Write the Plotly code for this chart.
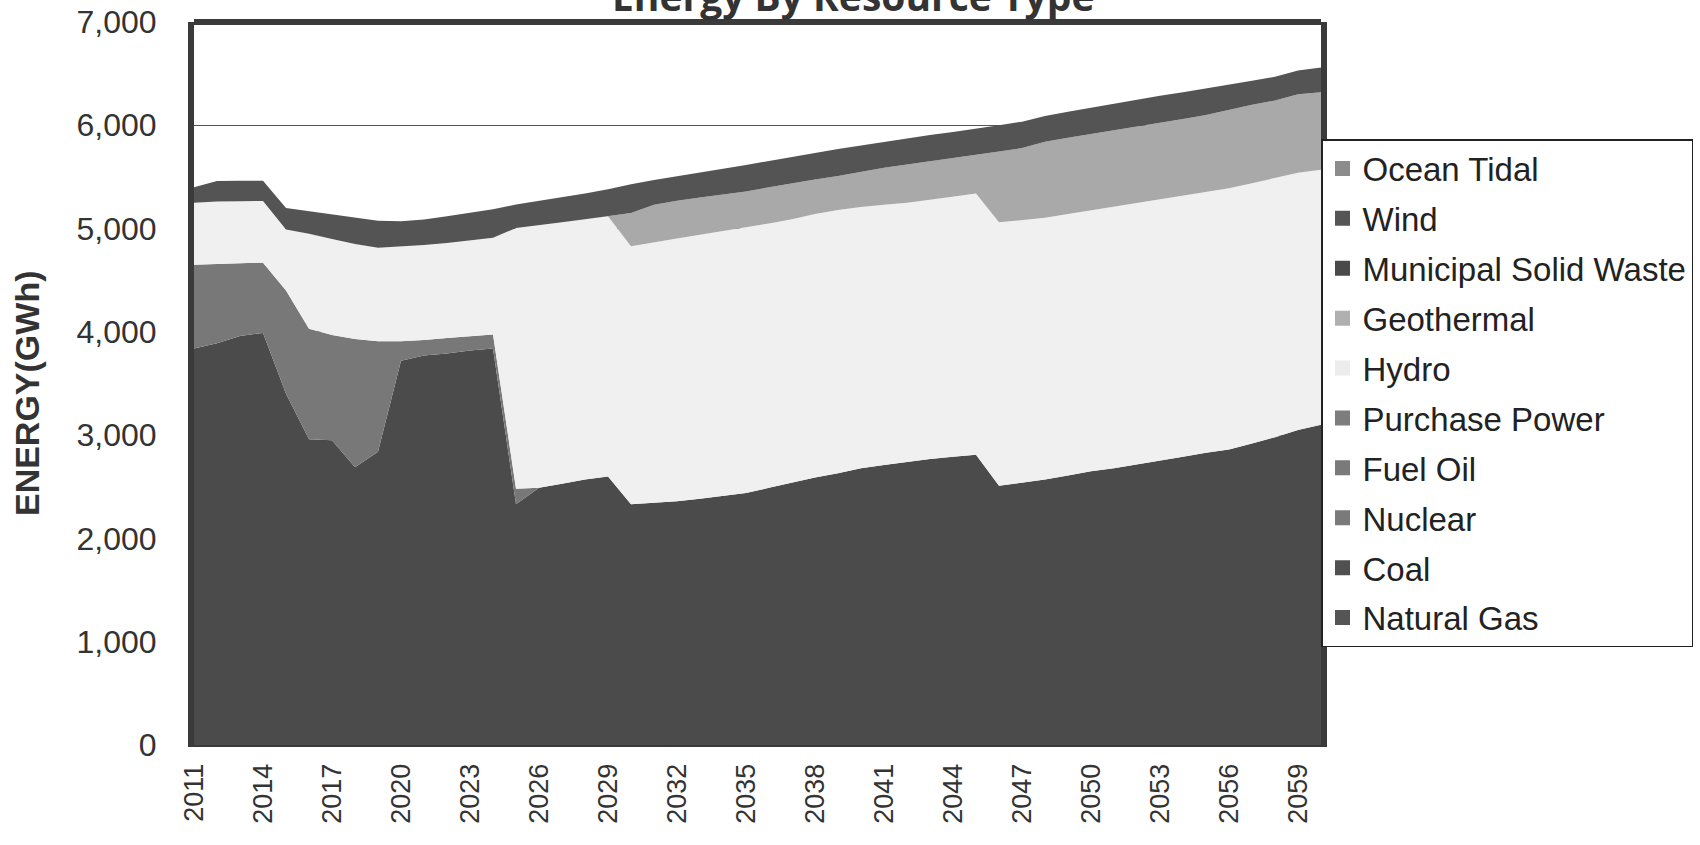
import plotly.graph_objects as go

years = list(range(2011, 2061))
tick_years = list(range(2011, 2060, 3))

natural_gas = [3840, 3890, 3960, 3990, 3400, 2960, 2950, 2690, 2840, 3720,
               3770, 3790, 3820, 3840, 2330, 2490, 2530, 2570, 2600, 2330,
               2345, 2360, 2385, 2410, 2440, 2490, 2540, 2590, 2630, 2680,
               2710, 2740, 2770, 2790, 2810, 2510, 2540, 2570, 2610, 2650,
               2680, 2715, 2750, 2790, 2830, 2860, 2920, 2980, 3050, 3100]
coal = [0] * 50
nuclear = [0] * 50
fuel_oil = [810, 770, 705, 680, 1000, 1070, 1020, 1240, 1070, 190,
            150, 150, 140, 135, 150, 0, 0, 0, 0, 0,
            0, 0, 0, 0, 0, 0, 0, 0, 0, 0,
            0, 0, 0, 0, 0, 0, 0, 0, 0, 0,
            0, 0, 0, 0, 0, 0, 0, 0, 0, 0]
purchase_power = [0] * 50
hydro = [600, 602, 600, 597, 590, 920, 930, 920, 905, 915,
         920, 920, 925, 935, 2525, 2540, 2530, 2520, 2520, 2500,
         2525, 2545, 2555, 2565, 2570, 2560, 2550, 2550, 2550, 2530,
         2520, 2510, 2510, 2520, 2530, 2550, 2540, 2535, 2530, 2525,
         2530, 2535, 2530, 2525, 2520, 2530, 2520, 2510, 2490, 2470]
geothermal = [0, 0, 0, 0, 0, 0, 0, 0, 0, 0,
              0, 0, 0, 0, 0, 0, 0, 0, 0, 320,
              360, 365, 360, 355, 350, 350, 350, 335, 330, 340,
              360, 370, 370, 375, 375, 685, 700, 735, 740, 740,
              740, 735, 740, 745, 750, 760, 760, 750, 760, 750]
municipal_solid_waste = [0] * 50
wind = [150, 198, 197, 195, 210, 220, 237, 254, 260, 247,
        248, 260, 268, 276, 229, 237, 240, 250, 261, 280,
        240, 235, 240, 245, 255, 255, 255, 260, 260, 255,
        250, 250, 255, 250, 250, 255, 255, 250, 250, 255,
        260, 265, 265, 260, 255, 240, 230, 230, 230, 240]
ocean_tidal = [0] * 50

series = [
    ("Natural Gas", natural_gas, "#4b4b4b"),
    ("Coal", coal, "#555555"),
    ("Nuclear", nuclear, "#7a7a7a"),
    ("Fuel Oil", fuel_oil, "#787878"),
    ("Purchase Power", purchase_power, "#7d7d7d"),
    ("Hydro", hydro, "#f0f0f0"),
    ("Geothermal", geothermal, "#a9a9a9"),
    ("Municipal Solid Waste", municipal_solid_waste, "#4d4d4d"),
    ("Wind", wind, "#545454"),
    ("Ocean Tidal", ocean_tidal, "#8a8a8a"),
]
legend_colors = {
    "Natural Gas": "#555555", "Coal": "#505050", "Nuclear": "#7a7a7a",
    "Fuel Oil": "#7a7a7a", "Purchase Power": "#7d7d7d", "Hydro": "#ececec",
    "Geothermal": "#b0b0b0", "Municipal Solid Waste": "#4a4a4a",
    "Wind": "#555555", "Ocean Tidal": "#8c8c8c",
}

fig = go.Figure()
for name, vals, col in series:
    fig.add_trace(go.Scatter(
        x=years, y=vals, name=name, mode="lines",
        stackgroup="one", showlegend=False,
        line=dict(width=0, color=col), fillcolor=col,
    ))
# legend entries (square swatches), top entry = top layer
for name, vals, col in reversed(series):
    fig.add_trace(go.Scatter(
        x=[None], y=[None], name=name, mode="markers",
        marker=dict(symbol="square", size=15, color=legend_colors[name],
                    line=dict(width=0)),
        showlegend=True, legendgroup=name,
    ))

W, H = 1700, 845
L, R, T, B = 194, 372, 22, 100
PW = W - L - R
PH = H - T - B
fig.update_layout(
    width=W, height=H,
    margin=dict(l=L, r=R, t=T, b=B),
    paper_bgcolor="white", plot_bgcolor="white",
    font=dict(family="Liberation Sans, Arial, sans-serif", color="#333333"),
    showlegend=True,
    legend=dict(
        xref="container", yref="container",
        x=1321 / W, y=1 - 139 / H, xanchor="left", yanchor="top",
        traceorder="grouped", tracegroupgap=4, maxheight=600,
        font=dict(size=33, color="#222222"),
        bgcolor="white", bordercolor="#222222", borderwidth=1.5,
    ),
    xaxis=dict(
        range=[2011, 2060], tickmode="array", tickvals=tick_years,
        ticktext=[str(y) for y in tick_years], tickangle=-90,
        tickfont=dict(size=27, color="#333333"),
        showgrid=False, zeroline=False, automargin=False,
        showline=True, linecolor="#3a3a3a", linewidth=2,
        ticks="", ticklabelstandoff=6,
    ),
    yaxis=dict(
        range=[0, 7000], dtick=1000, tickformat=",",
        tickfont=dict(size=32, color="#333333"),
        showgrid=True, gridcolor="#555555", gridwidth=1.2,
        zeroline=False, showline=True, mirror=True, automargin=False,
        linecolor="#3a3a3a", linewidth=6, ticks="", ticklabelstandoff=25,
    ),
    shapes=[dict(type="line", xref="paper", yref="paper", x0=0, x1=1, y0=1, y1=1,
                 line=dict(color="#3a3a3a", width=6), layer="above")],
    annotations=[
        dict(text="<b>Energy By Resource Type</b>", xref="paper", yref="paper",
             x=(857 - L) / PW, y=0.999, xanchor="center", yanchor="bottom",
             showarrow=False, borderpad=0,
             font=dict(family="Open Sans, sans-serif", size=39, color="#333333")),
        dict(text="<b>ENERGY(GWh)</b>", xref="paper", yref="paper",
             x=(26 - L) / PW, y=(745 - 393) / PH, xanchor="center", yanchor="middle",
             textangle=-90, showarrow=False,
             font=dict(size=34, color="#333333")),
    ],
)

fig.write_html(
    "out.html",
    config={"displayModeBar": False},
    post_script="document.body.style.margin='0';document.body.style.overflow='hidden';",
)
